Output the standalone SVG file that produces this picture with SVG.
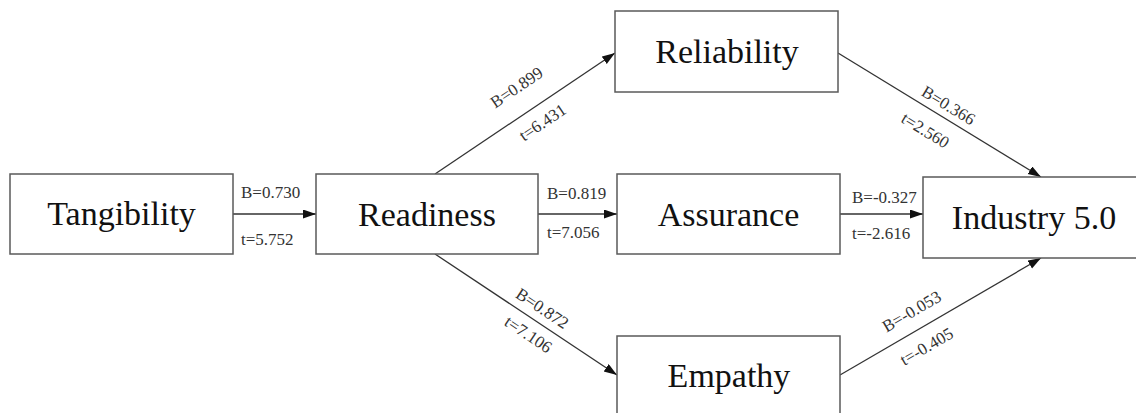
<svg xmlns="http://www.w3.org/2000/svg" width="1136" height="413" viewBox="0 0 1136 413">
<defs>
<style>
.box{fill:#fff;stroke:#5a5a5a;stroke-width:1.5}
.nt{font-family:"Liberation Serif","Times New Roman",serif;font-size:34px;fill:#111;text-anchor:middle}
.lb{font-family:"Liberation Serif","Times New Roman",serif;font-size:17px;fill:#333}
.lc{text-anchor:middle}
.edge{stroke:#333;stroke-width:1.3;fill:none;marker-end:url(#ah)}
</style>
<marker id="ah" markerUnits="userSpaceOnUse" markerWidth="14" markerHeight="10" refX="13" refY="4.5" orient="auto">
<path d="M0,0 L13,4.5 L0,9 z" fill="#111"/>
</marker>
</defs>
<rect width="1136" height="413" fill="#fff"/>
<g id="connectors">
<line class="edge" x1="233" y1="214" x2="316" y2="214"/>
<line class="edge" x1="435" y1="174" x2="615" y2="53"/>
<line class="edge" x1="538" y1="214" x2="617" y2="214"/>
<line class="edge" x1="435" y1="254" x2="617" y2="375"/>
<line class="edge" x1="838" y1="53" x2="1041" y2="177"/>
<line class="edge" x1="840" y1="214" x2="923" y2="214"/>
<line class="edge" x1="840" y1="375" x2="1041" y2="258"/>
<text class="lb" x="241" y="198">B=0.730</text>
<text class="lb" x="241" y="245">t=5.752</text>
<text class="lb" x="547" y="199">B=0.819</text>
<text class="lb" x="547" y="238">t=7.056</text>
<text class="lb" x="852" y="203">B=-0.327</text>
<text class="lb" x="852" y="239">t=-2.616</text>
<text class="lb lc" transform="translate(517,88) rotate(-34)" y="5">B=0.899</text>
<text class="lb lc" transform="translate(543,123) rotate(-34)" y="5">t=6.431</text>
<text class="lb lc" transform="translate(542,309) rotate(33.6)" y="5">B=0.872</text>
<text class="lb lc" transform="translate(528,335) rotate(33.6)" y="5">t=7.106</text>
<text class="lb lc" transform="translate(948,106) rotate(31.4)" y="5">B=0.366</text>
<text class="lb lc" transform="translate(925,131) rotate(31.4)" y="5">t=2.560</text>
<text class="lb lc" transform="translate(912,312) rotate(-30.2)" y="5">B=-0.053</text>
<text class="lb lc" transform="translate(927,347) rotate(-30.2)" y="5">t=-0.405</text>
</g>
<g id="tangibility"><rect class="box" x="10" y="174" width="223" height="80"/><text class="nt" x="121.5" y="225">Tangibility</text></g>
<g id="readiness"><rect class="box" x="316" y="174" width="222" height="80"/><text class="nt" x="427" y="226">Readiness</text></g>
<g id="reliability"><rect class="box" x="615" y="11" width="223" height="81"/><text class="nt" x="727" y="63">Reliability</text></g>
<g id="assurance"><rect class="box" x="617" y="174" width="223" height="80"/><text class="nt" x="728.5" y="226">Assurance</text></g>
<g id="empathy"><rect class="box" x="617" y="336" width="223" height="80"/><text class="nt" x="729" y="387">Empathy</text></g>
<g id="industry"><rect class="box" x="923" y="177" width="223" height="81"/><text class="nt" x="1034" y="229">Industry 5.0</text></g>
</svg>
